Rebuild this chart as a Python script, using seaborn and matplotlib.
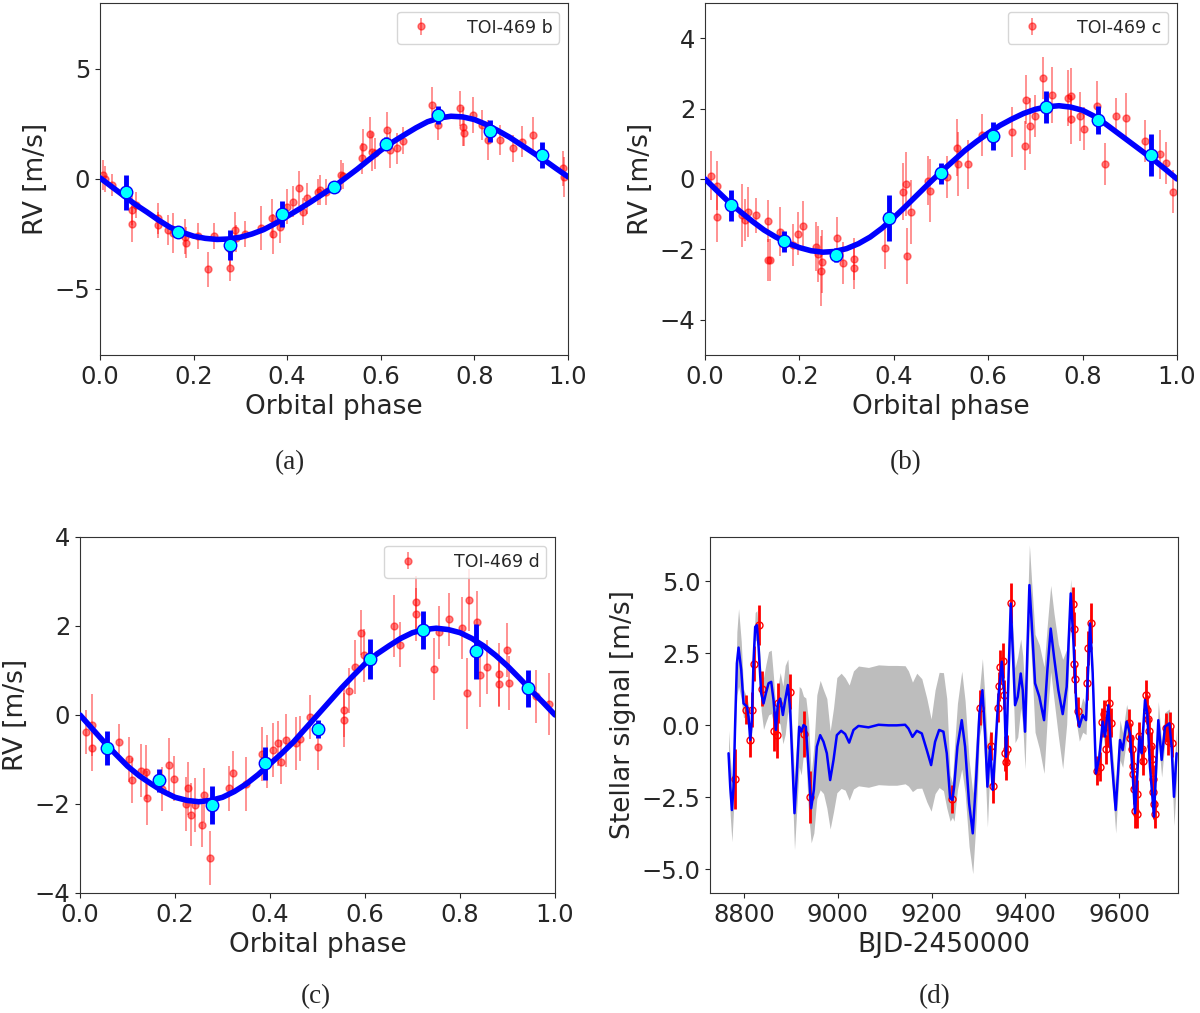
import numpy as np
import pandas as pd
import matplotlib
matplotlib.use("Agg")
import matplotlib.pyplot as plt
import seaborn as sns

# ---- panel (a): TOI-469 b ----
phase_b = [0.007, 0.010, 0.025, 0.068, 0.068, 0.078, 0.125, 0.125, 0.146, 0.156,
           0.182, 0.184, 0.210, 0.231, 0.244, 0.278, 0.278, 0.288, 0.290, 0.310,
           0.345, 0.367, 0.370, 0.385, 0.399, 0.413, 0.426, 0.434, 0.442, 0.466,
           0.470, 0.483, 0.516, 0.520, 0.559, 0.563, 0.577, 0.582, 0.588, 0.613,
           0.620, 0.634, 0.648, 0.709, 0.723, 0.769, 0.776, 0.778, 0.798, 0.816,
           0.830, 0.855, 0.883, 0.901, 0.926, 0.990, 0.991]
rv_b = [0.18, 0.00, -0.27, -1.41, -2.05, -1.18, -1.79, -2.10, -2.32, -2.47,
        -2.62, -2.90, -2.58, -4.10, -2.60, -4.06, -3.20, -2.32, -2.70, -2.50,
        -2.24, -1.79, -2.50, -2.20, -1.26, -1.03, -0.42, -1.48, -0.88, -0.58,
        -0.50, -0.58, 0.18, 0.14, 0.94, 1.47, 2.03, 1.24, 1.17, 2.23,
        1.32, 1.40, 1.74, 3.36, 2.45, 3.21, 2.38, 2.08, 2.91, 2.45,
        1.77, 1.77, 1.39, 1.70, 2.00, 0.48, 0.10]
err_b = [0.7, 0.6, 0.5, 0.7, 0.8, 0.6, 0.7, 0.6, 0.7, 0.9,
         0.8, 0.7, 0.6, 0.8, 0.6, 0.6, 0.7, 0.8, 0.6, 0.6,
         1.0, 0.9, 0.9, 0.7, 0.8, 0.7, 0.8, 0.6, 0.7, 0.6,
         0.7, 0.6, 0.7, 0.6, 0.7, 0.8, 0.8, 0.9, 0.7, 0.8,
         0.8, 0.7, 0.6, 0.8, 0.7, 0.8, 0.9, 0.6, 0.8, 0.7,
         0.9, 0.7, 0.6, 0.7, 0.8, 0.8, 0.9]

# ---- panel (b): TOI-469 c ----
phase_c = [0.012, 0.025, 0.026, 0.078, 0.085, 0.092, 0.109, 0.134, 0.134, 0.138,
           0.159, 0.187, 0.198, 0.208, 0.236, 0.240, 0.247, 0.245, 0.279, 0.293,
           0.316, 0.316, 0.381, 0.419, 0.426, 0.427, 0.436, 0.473, 0.477, 0.512,
           0.535, 0.537, 0.558, 0.586, 0.650, 0.678, 0.681, 0.689, 0.699, 0.717,
           0.735, 0.770, 0.775, 0.775, 0.794, 0.803, 0.831, 0.847, 0.871, 0.892,
           0.932, 0.964, 0.976, 0.992]
rv_c = [0.09, -0.19, -1.08, -1.03, -1.17, -0.94, -1.03, -1.19, -2.30, -2.30,
        -1.50, -1.88, -1.55, -1.33, -1.92, -2.14, -2.35, -2.61, -1.69, -2.39,
        -2.28, -2.52, -1.97, -0.36, -0.14, -2.19, -0.94, -0.05, -0.33, 0.05,
        0.89, 0.42, 0.42, 1.24, 1.33, 0.94, 2.25, 1.50, 1.78, 2.86,
        2.39, 2.30, 2.35, 1.69, 1.78, 1.43, 2.08, 0.42, 1.80, 1.74,
        1.08, 0.70, 0.45, -0.36]
err_c = [0.7, 0.7, 0.7, 0.9, 0.6, 0.7, 0.5, 0.6, 0.6, 0.6,
         0.7, 0.6, 0.6, 0.7, 0.7, 0.8, 0.9, 1.0, 0.6, 0.6,
         0.6, 0.6, 0.6, 0.8, 0.9, 0.8, 0.9, 0.7, 0.9, 0.6,
         0.8, 0.9, 0.7, 0.6, 0.7, 0.7, 0.7, 0.8, 0.6, 0.6,
         0.8, 0.8, 0.8, 0.7, 0.7, 0.6, 0.7, 0.6, 0.5, 0.7,
         0.6, 0.7, 0.6, 0.6]

# ---- panel (c): TOI-469 d ----
phase_d = [0.013, 0.025, 0.025, 0.081, 0.104, 0.109, 0.128, 0.139, 0.140, 0.173,
           0.188, 0.197, 0.223, 0.227, 0.234, 0.241, 0.257, 0.260, 0.273, 0.314,
           0.323, 0.350, 0.384, 0.393, 0.407, 0.417, 0.423, 0.433, 0.455, 0.463,
           0.484, 0.500, 0.555, 0.555, 0.567, 0.579, 0.591, 0.598, 0.661, 0.673,
           0.708, 0.708, 0.745, 0.755, 0.777, 0.805, 0.814, 0.819, 0.835, 0.842,
           0.856, 0.882, 0.882, 0.899, 0.904, 0.960, 0.988]
rv_d = [-0.38, -0.23, -0.75, -0.60, -1.00, -1.47, -1.25, -1.28, -1.87, -1.66,
        -1.12, -1.43, -2.00, -1.65, -2.24, -2.02, -2.47, -1.80, -3.21, -1.65,
        -1.30, -1.55, -0.88, -1.04, -0.79, -0.64, -1.06, -0.57, -0.64, -0.53,
        -0.05, -0.73, 0.11, -0.11, 0.55, 1.08, 1.85, 1.34, 2.00, 1.58,
        2.53, 2.26, 1.03, 1.86, 2.15, 1.96, 0.49, 2.59, 2.08, 0.89,
        1.08, 0.91, 0.69, 1.46, 0.72, 0.42, 0.25]
err_d = [0.5, 0.7, 0.5, 0.4, 0.5, 0.5, 0.6, 0.6, 0.6, 0.5,
         0.6, 0.5, 0.6, 0.6, 0.7, 0.6, 0.5, 0.6, 0.6, 0.5,
         0.5, 0.6, 0.6, 0.6, 0.6, 0.5, 0.5, 0.6, 0.6, 0.5,
         0.5, 0.5, 0.6, 0.6, 0.5, 0.6, 0.5, 0.6, 0.7, 0.5,
         0.6, 0.6, 0.7, 0.6, 0.6, 0.7, 0.8, 0.7, 0.7, 0.7,
         0.6, 0.7, 0.5, 0.6, 0.6, 0.6, 0.7]

# ---- binned points (same phases for all three planets) ----
bin_phase = [0.056, 0.167, 0.278, 0.389, 0.500, 0.611, 0.722, 0.833, 0.944]
bin_rv_b = [-0.6, -2.4, -3.0, -1.6, -0.36, 1.6, 2.9, 2.2, 1.1]
bin_err_b = [0.8, 0.2, 0.7, 0.6, 0.1, 0.3, 0.4, 0.5, 0.6]
bin_rv_c = [-0.75, -1.77, -2.16, -1.11, 0.16, 1.22, 2.05, 1.67, 0.69]
bin_err_c = [0.45, 0.3, 0.2, 0.65, 0.3, 0.4, 0.45, 0.4, 0.6]
bin_rv_d = [-0.75, -1.47, -2.02, -1.09, -0.32, 1.25, 1.91, 1.43, 0.60]
bin_err_d = [0.38, 0.25, 0.42, 0.38, 0.2, 0.45, 0.42, 0.62, 0.42]

# ---- Keplerian model curves (every 0.025 in phase) ----
model_phase = [0.000, 0.025, 0.050, 0.075, 0.100, 0.125, 0.150, 0.175, 0.200, 0.225,
               0.250, 0.275, 0.300, 0.325, 0.350, 0.375, 0.400, 0.425, 0.450, 0.475,
               0.500, 0.525, 0.550, 0.575, 0.600, 0.625, 0.650, 0.675, 0.700, 0.725,
               0.750, 0.775, 0.800, 0.825, 0.850, 0.875, 0.900, 0.925, 0.950, 0.975,
               1.000]
model_b = [0.05, -0.35, -0.75, -1.15, -1.5, -1.87, -2.2, -2.42, -2.6, -2.7,
           -2.75, -2.73, -2.65, -2.5, -2.3, -2.02, -1.7, -1.38, -1.05, -0.7,
           -0.35, 0.05, 0.45, 0.88, 1.3, 1.67, 2.0, 2.32, 2.6, 2.77,
           2.85, 2.82, 2.7, 2.48, 2.2, 1.9, 1.55, 1.2, 0.85, 0.47,
           0.1]
model_c = [0.0, -0.33, -0.65, -0.93, -1.2, -1.45, -1.65, -1.82, -1.95, -2.04,
           -2.08, -2.06, -1.98, -1.84, -1.65, -1.4, -1.1, -0.78, -0.45, -0.12,
           0.2, 0.5, 0.8, 1.06, 1.3, 1.52, 1.7, 1.86, 1.98, 2.05,
           2.08, 2.04, 1.95, 1.78, 1.55, 1.3, 1.05, 0.8, 0.55, 0.28,
           0.0]
model_d = [0.0, -0.3, -0.6, -0.88, -1.15, -1.37, -1.55, -1.72, -1.85, -1.92,
           -1.95, -1.92, -1.85, -1.72, -1.55, -1.34, -1.1, -0.86, -0.6, -0.3,
           0.0, 0.3, 0.6, 0.88, 1.15, 1.37, 1.55, 1.72, 1.85, 1.92,
           1.95, 1.92, 1.85, 1.72, 1.55, 1.34, 1.1, 0.83, 0.55, 0.28,
           0.0]

# ---- panel (d): stellar activity GP (mean and 1-sigma half width) ----
gp_time = [8766.5, 8770.1, 8773.7, 8777.2, 8780.8, 8784.3, 8787.9, 8793.6, 8798.5, 8805.7,
           8809.2, 8812.8, 8816.3, 8819.9, 8823.4, 8827.0, 8830.6, 8836.2, 8841.2, 8846.2,
           8851.9, 8857.6, 8862.5, 8867.5, 8871.8, 8876.8, 8882.5, 8887.4, 8893.1, 8898.1,
           8903.1, 8907.3, 8912.3, 8917.3, 8921.6, 8926.5, 8931.5, 8937.2, 8942.9, 8948.6,
           8955.0, 8962.1, 8969.2, 8976.3, 8983.4, 8990.6, 8997.7, 9006.9, 9015.4, 9024.0,
           9033.2, 9043.9, 9065.2, 9086.6, 9107.9, 9125.7, 9143.4, 9150.5, 9159.1, 9168.3,
           9179.0, 9189.7, 9198.9, 9207.4, 9216.0, 9225.2, 9232.3, 9239.5, 9244.4, 9248.0,
           9255.1, 9264.3, 9271.4, 9280.0, 9287.8, 9294.9, 9302.0, 9308.4, 9314.1, 9319.1,
           9324.8, 9330.5, 9335.4, 9342.5, 9349.7, 9354.6, 9358.9, 9363.9, 9368.9, 9373.1,
           9378.1, 9383.8, 9390.2, 9394.5, 9399.4, 9404.4, 9408.7, 9413.7, 9420.8, 9430.0,
           9440.0, 9447.1, 9454.2, 9461.3, 9470.5, 9479.8, 9488.3, 9496.9, 9502.5, 9509.7,
           9515.3, 9522.5, 9529.6, 9538.1, 9543.8, 9550.9, 9558.0, 9565.1, 9570.1, 9577.2,
           9584.3, 9592.9, 9602.1, 9607.8, 9616.3, 9623.4, 9629.1, 9634.1, 9639.1, 9643.4,
           9648.3, 9655.5, 9660.4, 9666.1, 9674.6, 9683.9, 9691.0, 9698.1, 9707.4, 9712.3,
           9717.3, 9723.0]
gp_mean = [-0.98, -2.14, -2.95, -2.14, 0.17, 2.14, 2.69, 1.91, 0.75, 0.64,
           0.29, -0.52, 0.17, 2.25, 3.41, 3.47, 2.72, 1.10, 0.75, 1.10,
           1.45, 1.50, 0.87, -0.17, 0.75, 0.92, 0.35, 0.87, 1.39, 0.52,
           -1.45, -3.06, -1.68, -0.06, -0.23, 0.00, -0.06, -1.45, -2.89, -2.25,
           -0.75, -0.35, -0.58, -0.98, -1.91, -1.21, -0.35, -0.20, -0.31, -0.61,
           -0.17, -0.03, -0.08, 0.01, -0.01, -0.01, 0.01, -0.12, -0.41, -0.20,
           -0.29, -0.87, -1.39, -0.58, -0.17, -0.23, -0.98, -2.54, -2.60, -2.14,
           -0.75, 0.17, -0.75, -2.72, -3.76, -1.91, 0.40, 1.21, -0.29, -2.14,
           -0.75, -2.25, -0.98, 0.98, 2.20, 1.21, -1.10, 1.56, 4.22, 2.60,
           0.69, 0.98, 1.79, 1.21, -0.23, 2.60, 4.86, 3.53, 1.45, 0.98,
           0.17, 1.91, 3.35, 2.37, 1.21, 0.38, 1.33, 4.57, 2.95, 0.40,
           -0.06, 0.35, 0.17, 3.53, 1.79, -1.68, -1.10, 0.12, -0.40, 0.69,
           -1.21, -2.95, -0.52, -0.87, 0.12, -0.29, -1.68, -3.06, -1.68, -0.40,
           -0.98, 0.87, 0.40, -1.45, -3.18, 0.17, -1.21, -0.06, 0.06, -0.75,
           -2.49, -0.98]
gp_sigma = [0.8, 1.0, 1.1, 0.8, 0.5, 1.1, 1.35, 1.0, 0.5, 0.3,
            0.4, 0.5, 0.4, 0.4, 0.5, 0.5, 0.5, 0.6, 0.9, 1.0,
            1.1, 1.1, 0.8, 0.7, 0.6, 0.9, 1.0, 1.2, 0.9, 0.6,
            1.0, 1.27, 1.2, 1.4, 1.5, 1.0, 1.0, 1.6, 1.2, 1.5,
            1.8, 1.9, 1.8, 1.9, 1.7, 1.8, 2.0, 2.0, 1.95, 2.0,
            2.05, 2.08, 2.08, 2.08, 2.08, 2.08, 2.05, 2.0, 1.9, 2.0,
            1.9, 1.8, 1.6, 1.8, 2.0, 2.05, 1.9, 0.8, 0.6, 1.2,
            1.5, 1.7, 1.6, 1.5, 1.4, 1.4, 0.8, 1.1, 1.2, 1.4,
            0.6, 0.5, 0.7, 0.5, 0.4, 0.5, 0.5, 0.7, 0.6, 0.9,
            1.3, 1.4, 1.2, 1.2, 1.3, 1.3, 1.4, 1.4, 1.7, 1.8,
            1.85, 1.6, 1.5, 1.5, 1.6, 1.9, 1.3, 0.5, 0.4, 0.4,
            0.5, 0.6, 0.5, 0.5, 0.6, 0.4, 0.4, 0.4, 0.4, 0.4,
            0.6, 0.8, 0.7, 0.6, 0.6, 0.4, 0.4, 0.4, 0.4, 0.4,
            0.4, 0.4, 0.4, 0.4, 0.4, 0.65, 0.6, 0.5, 0.5, 0.6,
            1.0, 0.9]

act_time = [8779.4, 8804.3, 8812.8, 8816.4, 8821.3, 8830.6, 8837.7, 8864.0, 8869.7, 8871.1,
            8898.2, 8928.0, 8940.8, 9243.1, 9303.6, 9326.3, 9330.6, 9342.7, 9344.8, 9346.2,
            9351.9, 9354.7, 9356.9, 9359.0, 9361.9, 9369.0, 9502.7, 9504.1, 9504.1, 9506.3,
            9513.4, 9532.6, 9534.7, 9539.7, 9552.5, 9559.6, 9563.2, 9568.1, 9572.4, 9577.4,
            9579.5, 9583.1, 9622.2, 9623.6, 9627.2, 9629.3, 9630.7, 9632.1, 9634.3, 9637.8,
            9639.3, 9643.5, 9648.5, 9652.0, 9657.8, 9660.6, 9662.7, 9664.9, 9667.7, 9669.8,
            9672.0, 9673.4, 9674.8, 9676.9, 9700.4, 9705.4, 9708.9, 9712.5]
act_rv = [-1.88, 0.54, -0.52, 0.54, 2.13, 3.48, 1.26, -0.21, -0.36, 0.77,
          1.16, -0.32, -2.49, -2.57, 0.60, -0.73, -2.11, 0.60, 1.35, 2.02,
          2.24, 1.06, -0.98, -1.30, -0.84, 4.23, 4.21, 3.33, 2.13, 1.60,
          0.48, 1.46, 2.68, 3.54, -1.59, -1.44, 0.10, 0.37, -0.84, -0.27,
          0.75, 0.08, 0.06, -0.44, -0.84, -1.42, -1.71, -2.23, -2.98, -3.09,
          -2.40, -0.38, -0.84, -1.25, 1.06, 0.54, 0.20, -0.21, -0.73, -1.19,
          -1.88, -2.34, -2.75, -3.09, -0.09, -0.55, -0.03, -0.61]
act_err = [1.05, 0.5, 0.6, 0.6, 0.6, 0.7, 0.6, 0.7, 0.8, 0.7,
           0.6, 0.8, 0.9, 0.5, 0.6, 0.5, 0.6, 0.5, 0.5, 0.6,
           0.6, 0.5, 0.6, 0.6, 0.5, 0.7, 0.6, 0.6, 0.5, 0.5,
           0.5, 0.6, 0.6, 0.7, 0.5, 0.5, 0.5, 0.5, 0.5, 0.5,
           0.6, 0.5, 0.5, 0.5, 0.5, 0.5, 0.5, 0.5, 0.6, 0.5,
           0.5, 0.5, 0.5, 0.5, 0.5, 0.5, 0.5, 0.5, 0.5, 0.5,
           0.5, 0.5, 0.5, 0.5, 0.5, 0.5, 0.5, 0.5]

sns.set_style("ticks")
plt.rcParams["font.family"] = ["DejaVu Sans"]
plt.rcParams["xtick.labelsize"] = 17.5
plt.rcParams["ytick.labelsize"] = 17.5
plt.rcParams["axes.labelsize"] = 19

fig = plt.figure(figsize=(12, 10.13), dpi=100)
ax_a = fig.add_axes([0.0833, 0.6496, 0.39, 0.3475])
ax_b = fig.add_axes([0.5875, 0.6496, 0.3933, 0.3475])
ax_c = fig.add_axes([0.0667, 0.1185, 0.3958, 0.3514])
ax_d = fig.add_axes([0.5917, 0.1185, 0.39, 0.3514])


def phase_panel(ax, ph, rv, err, bin_rv, bin_err, model, name, ylim, yticks):
    ax.errorbar(ph, rv, yerr=err, fmt="o", color="red", alpha=0.5,
                markersize=5, elinewidth=1.2, label=name, zorder=2)
    sns.lineplot(x=model_phase, y=model, ax=ax, color="blue", linewidth=4,
                 zorder=3)
    ax.errorbar(bin_phase, bin_rv, yerr=bin_err, fmt="o", color="blue",
                elinewidth=3.5, markerfacecolor="cyan", markeredgecolor="blue",
                markersize=9, zorder=4)
    ax.set_xlim(0, 1)
    ax.set_ylim(*ylim)
    ax.set_yticks(yticks)
    ax.set_xticks([0.0, 0.2, 0.4, 0.6, 0.8, 1.0])
    ax.set_xlabel("Orbital phase")
    ax.set_ylabel("RV [m/s]")
    handles, labels = ax.get_legend_handles_labels()
    ax.legend(handles[:1], labels[:1], loc="upper right", fontsize=12.5,
              handletextpad=1.6)
    for s in ax.spines.values():
        s.set_color("#333333")


phase_panel(ax_a, phase_b, rv_b, err_b, bin_rv_b, bin_err_b, model_b,
            "TOI-469 b", (-8, 8), [-5, 0, 5])
phase_panel(ax_b, phase_c, rv_c, err_c, bin_rv_c, bin_err_c, model_c,
            "TOI-469 c", (-5, 5), [-4, -2, 0, 2, 4])
phase_panel(ax_c, phase_d, rv_d, err_d, bin_rv_d, bin_err_d, model_d,
            "TOI-469 d", (-4, 4), [-4, -2, 0, 2, 4])

# stellar signal panel
lo = [m - s for m, s in zip(gp_mean, gp_sigma)]
hi = [m + s for m, s in zip(gp_mean, gp_sigma)]
ax_d.fill_between(gp_time, lo, hi, color="#bdbdbd", linewidth=0, zorder=1)
ax_d.errorbar(act_time, act_rv, yerr=act_err, fmt="o", color="red",
              markerfacecolor="none", markersize=5, elinewidth=2, zorder=2)
sns.lineplot(x=gp_time, y=gp_mean, ax=ax_d, color="blue", linewidth=1.8,
             zorder=3)
ax_d.set_xlim(8727, 9726)
ax_d.set_ylim(-5.83, 6.53)
ax_d.set_xticks([8800, 9000, 9200, 9400, 9600])
ax_d.set_yticks([-5.0, -2.5, 0.0, 2.5, 5.0])
ax_d.set_yticklabels(["\u22125.0", "\u22122.5", "0.0", "2.5", "5.0"])
ax_d.set_xlabel("BJD-2450000")
ax_d.set_ylabel("Stellar signal [m/s]")
for s in ax_d.spines.values():
    s.set_color("#333333")

serif = ["Liberation Serif", "DejaVu Serif"]
fig.text(290 / 1200, 1 - 463 / 1013, "(a)", family=serif, fontsize=19.5,
         ha="center", va="center")
fig.text(906 / 1200, 1 - 463 / 1013, "(b)", family=serif, fontsize=19.5,
         ha="center", va="center")
fig.text(316 / 1200, 1 - 997 / 1013, "(c)", family=serif, fontsize=19.5,
         ha="center", va="center")
fig.text(935 / 1200, 1 - 997 / 1013, "(d)", family=serif, fontsize=19.5,
         ha="center", va="center")

fig.savefig("out.png", dpi=100)
